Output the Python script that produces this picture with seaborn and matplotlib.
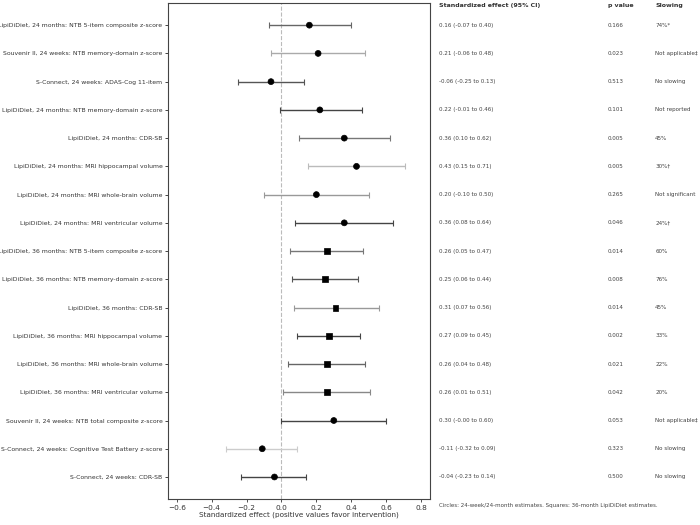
import matplotlib
matplotlib.use("Agg")
import matplotlib.pyplot as plt
import matplotlib.transforms as mtransforms
import seaborn as sns
import pandas as pd
import numpy as np

labels = [
    "LipiDiDiet, 24 months: NTB 5-item composite z-score",
    "Souvenir II, 24 weeks: NTB memory-domain z-score",
    "S-Connect, 24 weeks: ADAS-Cog 11-item",
    "LipiDiDiet, 24 months: NTB memory-domain z-score",
    "LipiDiDiet, 24 months: CDR-SB",
    "LipiDiDiet, 24 months: MRI hippocampal volume",
    "LipiDiDiet, 24 months: MRI whole-brain volume",
    "LipiDiDiet, 24 months: MRI ventricular volume",
    "LipiDiDiet, 36 months: NTB 5-item composite z-score",
    "LipiDiDiet, 36 months: NTB memory-domain z-score",
    "LipiDiDiet, 36 months: CDR-SB",
    "LipiDiDiet, 36 months: MRI hippocampal volume",
    "LipiDiDiet, 36 months: MRI whole-brain volume",
    "LipiDiDiet, 36 months: MRI ventricular volume",
    "Souvenir II, 24 weeks: NTB total composite z-score",
    "S-Connect, 24 weeks: Cognitive Test Battery z-score",
    "S-Connect, 24 weeks: CDR-SB",
]
estimates = [0.16, 0.21, -0.06, 0.22, 0.36, 0.43, 0.20, 0.36, 0.26, 0.25, 0.31, 0.27, 0.26, 0.26, 0.30, -0.11, -0.04]
ci_low = [-0.07, -0.06, -0.25, -0.01, 0.10, 0.15, -0.10, 0.08, 0.05, 0.06, 0.07, 0.09, 0.04, 0.01, -0.00, -0.32, -0.23]
ci_high = [0.40, 0.48, 0.13, 0.46, 0.62, 0.71, 0.50, 0.64, 0.47, 0.44, 0.56, 0.45, 0.48, 0.51, 0.60, 0.09, 0.14]
p_values = ["0.166", "0.023", "0.513", "0.101", "0.005", "0.005", "0.265", "0.046", "0.014", "0.008",
            "0.014", "0.002", "0.021", "0.042", "0.053", "0.323", "0.500"]
slowing = ["74%*", "Not applicable‡", "No slowing", "Not reported", "45%", "30%†", "Not significant", "24%†",
           "60%", "76%", "45%", "33%", "22%", "20%", "Not applicable‡", "No slowing", "No slowing"]
estimate_type = ["24-week/24-month"] * 8 + ["36-month"] * 6 + ["24-week/24-month"] * 3
bar_grays = ["#666666", "#aaaaaa", "#555555", "#444444", "#777777", "#bbbbbb", "#999999", "#444444",
             "#777777", "#555555", "#999999", "#444444", "#666666", "#888888", "#444444", "#cccccc", "#444444"]

sns.set_style("ticks")
plt.rcParams['font.family'] = ['DejaVu Sans']

df = pd.DataFrame({"label": labels, "est": estimates, "lo": ci_low, "hi": ci_high,
                   "type": estimate_type, "row": np.arange(len(labels))})

fig = plt.figure(figsize=(7, 5.25), dpi=100)
ax = fig.add_axes([0.24, 0.0495, 0.374, 0.9445])

ax.axvline(0, color="#bbbbbb", linestyle="--", linewidth=0.8, zorder=0)
for i, r in df.iterrows():
    ax.errorbar(r["est"], r["row"], xerr=[[r["est"] - r["lo"]], [r["hi"] - r["est"]]],
                fmt="none", ecolor=bar_grays[i], elinewidth=1.0, capsize=2, capthick=0.8, zorder=1)

sns.scatterplot(data=df, x="est", y="row", style="type", markers={"24-week/24-month": "o", "36-month": "s"},
                color="black", s=18, edgecolor="black", linewidth=0.5, legend=False, ax=ax, zorder=3)

ax.set_ylim(len(labels) - 0.22, -0.78)
ax.set_xlim(-0.65, 0.85)
ax.set_yticks(range(len(labels)))
ax.set_yticklabels(labels, fontsize=4.4, color="#333333")
ax.set_xticks([-0.6, -0.4, -0.2, 0.0, 0.2, 0.4, 0.6, 0.8])
ax.tick_params(axis="x", labelsize=5.3, length=2.5, width=0.6, colors="#333333", pad=1.5)
ax.tick_params(axis="y", length=2.5, width=0.6, pad=1.5)
ax.set_xlabel("Standardized effect (positive values favor intervention)", fontsize=5.2, color="#333333", labelpad=1)
ax.set_ylabel("")
for s in ax.spines.values():
    s.set_linewidth(0.8)
    s.set_color("#444444")

trans = mtransforms.blended_transform_factory(fig.transFigure, ax.transData)
x_ci, x_p, x_sl = 0.627, 0.868, 0.936
for i in range(len(labels)):
    ci_txt = f"{estimates[i]:.2f} ({ci_low[i]:.2f} to {ci_high[i]:.2f})"
    ax.text(x_ci, i, ci_txt, transform=trans, fontsize=4.1, va="center", ha="left", color="#444444")
    ax.text(x_p, i, p_values[i], transform=trans, fontsize=4.1, va="center", ha="left", color="#444444")
    ax.text(x_sl, i, slowing[i], transform=trans, fontsize=4.1, va="center", ha="left", color="#444444")

fig.text(x_ci, 0.990, "Standardized effect (95% CI)", fontsize=4.5, fontweight="bold", va="center", ha="left", color="#333333")
fig.text(x_p, 0.990, "p value", fontsize=4.5, fontweight="bold", va="center", ha="left", color="#333333")
fig.text(x_sl, 0.990, "Slowing", fontsize=4.5, fontweight="bold", va="center", ha="left", color="#333333")
fig.text(x_ci, 0.038, "Circles: 24-week/24-month estimates. Squares: 36-month LipiDiDiet estimates.",
         fontsize=4.0, va="center", ha="left", color="#444444")

fig.savefig("out.png", dpi=100)
